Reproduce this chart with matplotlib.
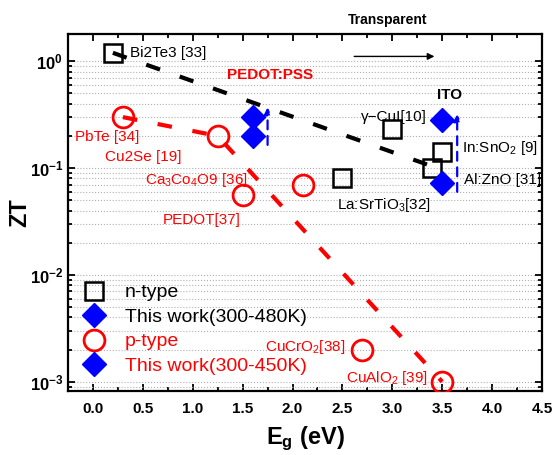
import matplotlib
matplotlib.use("Agg")
import matplotlib.pyplot as plt
from matplotlib.lines import Line2D
from matplotlib.ticker import MultipleLocator, LogLocator, NullFormatter

plt.rcParams['font.family'] = ['Liberation Sans', 'DejaVu Sans']
plt.rcParams['mathtext.fontset'] = 'custom'
plt.rcParams['mathtext.rm'] = 'Liberation Sans'
plt.rcParams['mathtext.it'] = 'Liberation Sans:italic'
plt.rcParams['mathtext.bf'] = 'Liberation Sans:bold'

# n-type references
n_names = ["Bi2Te3 [33]", "γ−CuI[10]", "In:SnO$_2$ [9]", "Al:ZnO [31]", "La:SrTiO$_3$[32]"]
n_eg = [0.2, 3.0, 3.5, 3.4, 2.5]
n_zt = [1.2, 0.23, 0.14, 0.10, 0.08]
n_trend_eg = [0.2, 3.45]
n_trend_zt = [1.2, 0.1]

# p-type references
p_names = ["PbTe [34]", "Cu2Se [19]", "PEDOT[37]", "Ca$_3$Co$_4$O9 [36]", "CuCrO$_2$[38]", "CuAlO$_2$ [39]"]
p_eg = [0.3, 1.25, 1.5, 2.1, 2.7, 3.5]
p_zt = [0.30, 0.20, 0.056, 0.07, 0.002, 0.001]
p_trend_eg = [0.3, 1.25, 3.5]
p_trend_zt = [0.30, 0.20, 0.001]

# this work
pedot_eg = [1.6, 1.6]
pedot_zt = [0.30, 0.20]
ito_eg = [3.5, 3.5]
ito_zt = [0.285, 0.073]
# rising arrows (x, y_start, y_end)
arrows = [(1.75, 0.165, 0.37), (3.65, 0.06, 0.32)]

ytick_vals = [1e-3, 1e-2, 1e-1, 1e0]
ytick_labels = [r'$\mathbf{10^{-3}}$', r'$\mathbf{10^{-2}}$', r'$\mathbf{10^{-1}}$', r'$\mathbf{10^{0}}$']


def main():
    fig = plt.figure(figsize=(5.55, 4.55), dpi=100)
    ax = fig.add_axes([0.1225, 0.1407, 0.8541, 0.7846])

    ax.plot(n_trend_eg, n_trend_zt, color='black', lw=3, ls=(0, (3.5, 5)), zorder=2)
    ax.plot(p_trend_eg, p_trend_zt, color='red', lw=3, ls=(0, (3.5, 5)), zorder=2)

    ax.plot(n_eg, n_zt, 's', ms=13, mfc='none', mec='black', mew=1.8, zorder=3)
    ax.plot(p_eg, p_zt, 'o', ms=15, mfc='none', mec='red', mew=2, zorder=3)
    ax.plot(pedot_eg, pedot_zt, 'D', ms=12.5, color='blue', zorder=3)
    ax.plot(ito_eg, ito_zt, 'D', ms=12.5, color='blue', zorder=3)

    for x, y0, y1 in arrows:
        ax.annotate('', xy=(x, y1), xytext=(x, y0),
                    arrowprops=dict(arrowstyle='-|>', color='blue', lw=1.6,
                                    ls=(0, (4, 3)), mutation_scale=10,
                                    shrinkA=0, shrinkB=0))

    # black labels
    fs = 11
    ax.text(0.37, n_zt[0], n_names[0], fontsize=fs, va='center', ha='left')
    ax.text(2.69, 0.30, n_names[1], fontsize=fs, va='center', ha='left')
    ax.text(3.7, 0.155, n_names[2], fontsize=fs, va='center', ha='left')
    ax.text(3.72, 0.078, n_names[3], fontsize=fs, va='center', ha='left')
    ax.text(2.45, 0.045, n_names[4], fontsize=fs, va='center', ha='left')
    ax.text(3.45, 0.48, "ITO", fontsize=fs, fontweight='bold', va='center', ha='left')

    # red labels
    ax.text(-0.18, 0.197, p_names[0], fontsize=fs, color='red', va='center', ha='left')
    ax.text(0.12, 0.128, p_names[1], fontsize=fs, color='red', va='center', ha='left')
    ax.text(0.7, 0.033, p_names[2], fontsize=fs, color='red', va='center', ha='left')
    ax.text(0.52, 0.078, p_names[3], fontsize=fs, color='red', va='center', ha='left')
    ax.text(1.72, 0.0021, p_names[4], fontsize=fs, color='red', va='center', ha='left')
    ax.text(2.54, 0.00108, p_names[5], fontsize=fs, color='red', va='center', ha='left')
    ax.text(1.34, 0.74, "PEDOT:PSS", fontsize=fs, color='red', fontweight='bold',
            va='center', ha='left')

    # transparent arrow
    ax.annotate('', xy=(3.45, 1.11), xytext=(2.59, 1.11),
                arrowprops=dict(arrowstyle='-|>', color='black', lw=1, mutation_scale=10))
    ax.text(2.95, 1.02, "Transparent", transform=ax.get_xaxis_transform(),
            fontsize=10, fontweight='bold', ha='center', va='bottom')

    ax.set_yscale('log')
    ax.set_xlim(-0.25, 4.5)
    ax.set_ylim(8.2e-4, 1.8)
    ax.set_yticks(ytick_vals)
    ax.set_yticklabels(ytick_labels)
    ax.yaxis.set_minor_locator(LogLocator(base=10, subs=range(2, 10)))
    ax.yaxis.set_minor_formatter(NullFormatter())
    ax.xaxis.set_major_locator(MultipleLocator(0.5))
    ax.xaxis.set_minor_locator(MultipleLocator(0.25))
    ax.set_xticks([0, 0.5, 1, 1.5, 2, 2.5, 3, 3.5, 4, 4.5])

    ax.yaxis.grid(True, which='both', ls=':', color='#b0b0b0', lw=0.8)
    ax.set_axisbelow(True)

    ax.tick_params(which='both', direction='in', top=True, right=True, width=1.3)
    ax.tick_params(which='major', length=5)
    ax.tick_params(which='minor', length=3)
    ax.tick_params(axis='x', which='major', pad=8)
    for lab in ax.get_xticklabels():
        lab.set_fontweight('bold')
        lab.set_fontsize(11)
    for lab in ax.get_yticklabels():
        lab.set_fontsize(12)
    for sp in ax.spines.values():
        sp.set_linewidth(1.6)

    ax.set_xlabel(r'$\mathbf{E_g}$ (eV)', fontsize=17, fontweight='bold', labelpad=6)
    ax.set_ylabel('ZT', fontsize=17, fontweight='bold', labelpad=-1)

    handles = [
        Line2D([], [], ls='none', marker='s', ms=13, mfc='none', mec='black', mew=1.8),
        Line2D([], [], ls='none', marker='D', ms=12.5, color='blue'),
        Line2D([], [], ls='none', marker='o', ms=15, mfc='none', mec='red', mew=2),
        Line2D([], [], ls='none', marker='D', ms=12.5, color='blue'),
    ]
    labels = ["n-type", "This work(300-480K)", "p-type", "This work(300-450K)"]
    leg = ax.legend(handles, labels, loc='upper left', bbox_to_anchor=(0.025, 0.30),
                    frameon=False, fontsize=14, borderpad=0, borderaxespad=0,
                    handlelength=1.5, handletextpad=0.8, labelspacing=0.35)
    for txt, c in zip(leg.get_texts(), ['black', 'black', 'red', 'red']):
        txt.set_color(c)

    fig.savefig("out.png", dpi=100)
    plt.close(fig)


if __name__ == '__main__':
    main()
